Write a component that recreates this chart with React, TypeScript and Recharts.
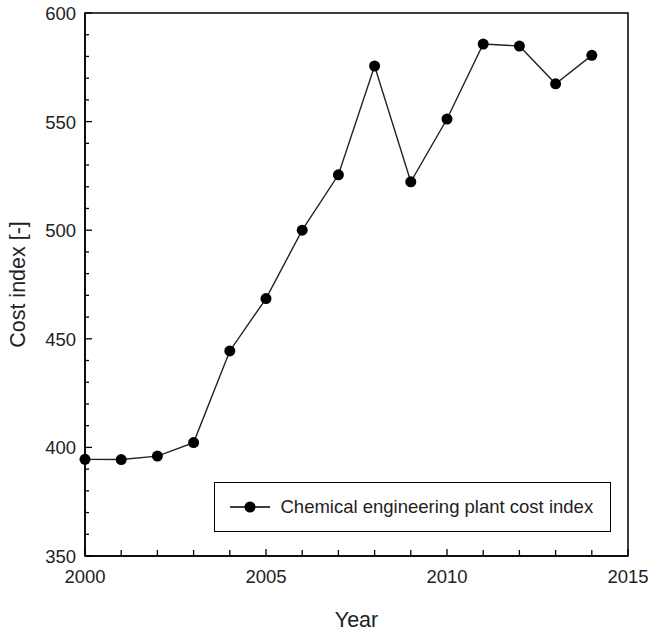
import { LineChart, Line, XAxis, YAxis, Legend, ReferenceArea, Label } from "recharts";

const years = [2000, 2001, 2002, 2003, 2004, 2005, 2006, 2007, 2008, 2009, 2010, 2011, 2012, 2013, 2014];
const costIndex = [394.5, 394.4, 396.0, 402.2, 444.4, 468.5, 500.0, 525.5, 575.6, 522.3, 551.2, 585.7, 584.8, 567.4, 580.5];
const xTicks = [2000, 2001, 2002, 2003, 2004, 2005, 2006, 2007, 2008, 2009, 2010, 2011, 2012, 2013, 2014, 2015];
const yTicks = [350, 360, 370, 380, 390, 400, 410, 420, 430, 440, 450, 460, 470, 480, 490, 500, 510, 520, 530, 540, 550, 560, 570, 580, 590, 600];
const seriesName = "Chemical engineering plant cost index";

const data = years.map((year, i) => ({ year, cost: costIndex[i] }));

const font = "'Liberation Sans', Arial, sans-serif";

function XTick({ x, y, payload }) {
  const major = payload.value % 5 === 0;
  return (
    <g>
      <line x1={x} x2={x} y1={y} y2={y - (major ? 7 : 6)} stroke="#000" strokeWidth={1.3} />
      {major && (
        <text x={x} y={y + 27} textAnchor="middle" fontSize={18.5} fontFamily={font} fill="#222">
          {payload.value}
        </text>
      )}
    </g>
  );
}

function YTick({ x, y, payload }) {
  const major = payload.value % 50 === 0;
  return (
    <g>
      <line x1={x} x2={x + (major ? 7 : 4)} y1={y} y2={y} stroke="#000" strokeWidth={1.3} />
      {major && (
        <text x={x - 9} y={y + 7} textAnchor="end" fontSize={18.5} fontFamily={font} fill="#222">
          {payload.value}
        </text>
      )}
    </g>
  );
}

function LegendBox() {
  return (
    <div
      style={{
        boxSizing: "border-box",
        width: 397,
        height: 50,
        border: "1.5px solid #000",
        background: "#fff",
        display: "flex",
        alignItems: "center",
        fontFamily: font,
        fontSize: 18.5,
        color: "#222",
      }}
    >
      <svg width={53} height={20} style={{ marginLeft: 12.5 }}>
        <line x1={2} x2={42} y1={10} y2={10} stroke="#000" strokeWidth={1.3} />
        <circle cx={22} cy={10} r={5.5} fill="#000" />
      </svg>
      <span>{seriesName}</span>
    </div>
  );
}

export default function App() {
  return (
    <div style={{ position: "fixed", left: 0, top: 0, background: "#fff" }}>
      <LineChart width={648} height={634} data={data} margin={{ top: 13, right: 20, bottom: 0, left: 0 }}>
        <XAxis
          dataKey="year"
          type="number"
          domain={[2000, 2015]}
          ticks={xTicks}
          interval={0}
          tickLine={false}
          tickSize={0}
          tickMargin={0}
          tick={<XTick />}
          height={78}
          stroke="#000"
          strokeWidth={1.5}
        >
          <Label value="Year" position="insideBottom" offset={7} fontSize={21.5} fontFamily={font} fill="#222" />
        </XAxis>
        <YAxis
          type="number"
          domain={[350, 600]}
          ticks={yTicks}
          interval={0}
          tickLine={false}
          tickSize={0}
          tickMargin={0}
          tick={<YTick />}
          width={85}
          stroke="#000"
          strokeWidth={1.5}
        >
          <Label
            value="Cost index [-]"
            angle={-90}
            position="insideLeft"
            offset={17}
            style={{ textAnchor: "middle" }}
            fontSize={21.5}
            fontFamily={font}
            fill="#222"
          />
        </YAxis>
        <ReferenceArea x1={2000} x2={2015} y1={350} y2={600} fill="none" stroke="#000" strokeWidth={1.5} />
        <Legend
          layout="horizontal"
          verticalAlign="middle"
          align="center"
          content={<LegendBox />}
          wrapperStyle={{ position: "absolute", left: 214, top: 482, width: 397, height: 50 }}
        />
        <Line
          type="linear"
          dataKey="cost"
          name={seriesName}
          stroke="#222"
          strokeWidth={1.4}
          dot={{ r: 5.5, fill: "#000", stroke: "#000", strokeWidth: 0 }}
          isAnimationActive={false}
        />
      </LineChart>
    </div>
  );
}
